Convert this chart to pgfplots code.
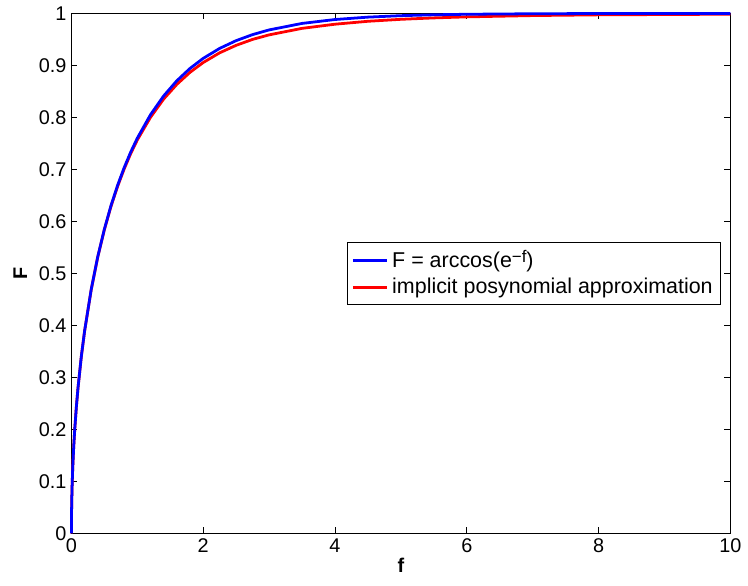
\documentclass[border=0pt]{standalone}
\usepackage{fontspec}
\setmainfont{Liberation Sans}
\usepackage{pgfplots}
\pgfplotsset{compat=1.18}

\pgfplotstableread{
f      exact   approx
0      0       0
0.002  0.0402  0.0402
0.005  0.0636  0.0636
0.01   0.0899  0.0899
0.02   0.1269  0.1269
0.035  0.1675  0.1675
0.05   0.1996  0.1996
0.075  0.2435  0.2435
0.1    0.2800  0.2800
0.15   0.3401  0.3400
0.2    0.3894  0.3892
0.3    0.4689  0.4686
0.4    0.5323  0.5318
0.5    0.5851  0.5841
0.6    0.6302  0.6287
0.7    0.6692  0.6672
0.8    0.7033  0.7008
0.9    0.7335  0.7305
1.0    0.7602  0.7567
1.2    0.8052  0.8002
1.4    0.8414  0.8354
1.6    0.8706  0.8636
1.8    0.8943  0.8868
2.0    0.9136  0.9056
2.25   0.9328  0.9243
2.5    0.9477  0.9387
2.75   0.9593  0.9501
3.0    0.9683  0.9588
3.5    0.9808  0.9713
4.0    0.9883  0.9793
4.5    0.9929  0.9849
5.0    0.9957  0.9887
5.5    0.9974  0.9914
6.0    0.9984  0.9934
7.0    0.9994  0.9959
8.0    0.9998  0.9973
9.0    0.9999  0.9979
10.0   1.0000  0.9985
}\curves

\begin{document}
\fontsize{10}{12}\selectfont
\begin{tikzpicture}
\begin{axis}[
    scale only axis,
    width=332pt, height=262pt,
    xmin=0, xmax=10, ymin=0, ymax=1,
    xtick={0,2,...,10},
    ytick={0,0.1,...,1},
    yticklabels={0,0.1,0.2,0.3,0.4,0.5,0.6,0.7,0.8,0.9,1},
    tick align=inside,
    major tick length=3pt,
    tick style={black, line width=0.4pt},
    axis line style={black, line width=0.5pt},
    /pgf/number format/assume math mode=true,
    ticklabel style={font=\fontsize{10}{12}\selectfont},
    xticklabel style={yshift=1pt},
    yticklabel style={xshift=1pt},
    xlabel={\textbf{f}},
    ylabel={\textbf{F}},
    xlabel style={yshift=4pt},
    ylabel style={yshift=-1pt},
    legend style={at={(0.986,0.5)}, anchor=east, draw=black, line width=0.5pt,
        font=\fontsize{10.8}{12}\selectfont, inner sep=2pt, row sep=0pt,
        cells={anchor=west}},
    legend cell align=left,
    reverse legend,
    clip=false,
]
\addplot[red, line width=1.4pt] table[x=f, y=approx] {\curves};
\addlegendentry{implicit posynomial approximation}
\addplot[blue, line width=1.4pt] table[x=f, y=exact] {\curves};
\addlegendentry{F = arccos(e{\fontsize{8.5}{8.5}\selectfont\raisebox{0.6ex}{−f}})}
\path (rel axis cs:-0.1084,-0.101) (rel axis cs:1.018,1.0134);
\end{axis}
\end{tikzpicture}
\end{document}
